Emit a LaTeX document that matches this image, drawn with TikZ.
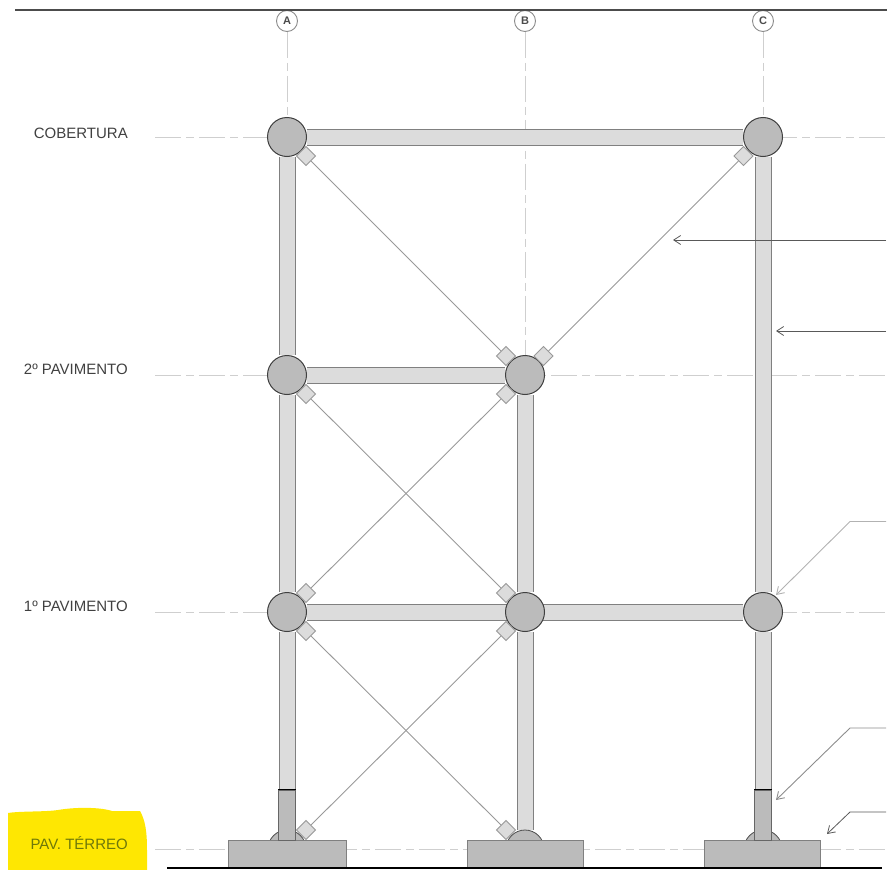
\documentclass[tikz,border=0pt]{standalone}
\usepackage{fontspec}
\setmainfont{Liberation Sans}
\usetikzlibrary{arrows.meta,backgrounds}
\definecolor{barfill}{HTML}{DCDCDC}
\definecolor{jointfill}{HTML}{BBBBBB}
\definecolor{griddash}{HTML}{CFCFCF}
\tikzset{
  x=1pt,y=-1pt,
  joint/.style={circle,draw=black!75,line width=1pt,fill=jointfill,inner sep=0pt,minimum size=39pt},
  halfjoint/.style={circle,draw=black!70,line width=.8pt,fill=jointfill,inner sep=0pt,minimum size=38pt},
  gusset/.style={rectangle,rotate=45,draw=black!40,line width=.8pt,fill=barfill,inner sep=0pt,minimum size=13.5pt},
  footing/.style={rectangle,draw=black!50,line width=.7pt,fill=jointfill,inner sep=0pt,minimum height=28pt},
  stub/.style={rectangle,draw=black!60,line width=.7pt,fill=jointfill,inner sep=0pt,minimum width=17pt,minimum height=50pt},
  member/.style={draw=black!50,line width=1pt,double=barfill,double distance=15pt},
  brace/.style={draw=black!40,line width=.9pt},
  gridline/.style={draw=griddash,line width=.9pt,dash pattern=on 26pt off 5pt on 8pt off 5pt},
  levellabel/.style={anchor=east,inner sep=0pt,font=\fontsize{15pt}{16pt}\selectfont,text=black!75},
  axislabel/.style={circle,draw=black!45,line width=.9pt,fill=white,inner sep=0pt,minimum size=21pt,font=\fontsize{11pt}{12pt}\selectfont\bfseries,text=black!70},
  leaderdark/.style={draw=black!65,line width=.8pt,-{Straight Barb[length=7pt,width=9pt]}},
  leaderlight/.style={draw=black!30,line width=.9pt,-{Straight Barb[length=7pt,width=9pt]}},
  leadermid/.style={draw=black!45,line width=.9pt,-{Straight Barb[length=7pt,width=9pt]}},
}
\begin{document}
\begin{tikzpicture}
\useasboundingbox (0,0) rectangle (887,870);

% highlight behind the ground-floor label
\fill[yellow!90!orange] (8,813) .. controls (20,811) and (45,812) .. (58,810)
  .. controls (75,807) and (100,807) .. (112,811) -- (140,811)
  .. controls (145,820) and (147,830) .. (147,850) -- (147,870) -- (8,870) -- cycle;

% level labels
\node[levellabel] (lcob) at (128,133) {COBERTURA};
\node[levellabel] (l2) at (128,369.5) {2º PAVIMENTO};
\node[levellabel] (l1) at (128,606.5) {1º PAVIMENTO};
\node[levellabel,text={rgb,255:red,110;green,120;blue,10}] (l0) at (128,843.5) {PAV. TÉRREO};

% axis bubbles
\node[axislabel] (axA) at (287,21) {A};
\node[axislabel] (axB) at (525,21) {B};
\node[axislabel] (axC) at (763,21) {C};

% free ends
\coordinate (gl0) at (155,849); \coordinate (gr0) at (887,849);
\coordinate (gl1) at (155,612); \coordinate (gr1) at (887,612);
\coordinate (gl2) at (155,375); \coordinate (gr2) at (887,375);
\coordinate (gl3) at (155,137); \coordinate (gr3) at (887,137);
\coordinate (bottomA) at (287,868); \coordinate (bottomB) at (525,868); \coordinate (bottomC) at (763,868);

% joints
\node[joint] (A3) at (287,137) {};
\node[joint] (C3) at (763,137) {};
\node[joint] (A2) at (287,375) {};
\node[joint] (B2) at (525,375) {};
\node[joint] (A1) at (287,612) {};
\node[joint] (B1) at (525,612) {};
\node[joint] (C1) at (763,612) {};

% base half joints, footings and column stubs
\node[halfjoint] (hA) at (287,849) {};
\node[halfjoint] (hB) at (525,849) {};
\node[halfjoint] (hC) at (763,849) {};
\node[footing,minimum width=118pt] (fA) at (287,854) {};
\node[footing,minimum width=116pt] (fB) at (525,854) {};
\node[footing,minimum width=116pt] (fC) at (762,854) {};
\node[stub] (sA) at (287,815) {};
\node[stub] (sC) at (763,815) {};
\draw[black,line width=.9pt] (sA.north west) -- (sA.north east);
\draw[black,line width=.9pt] (sC.north west) -- (sC.north east);

% gussets
\node[gusset] (gA3) at (306,156) {};
\node[gusset] (gC3) at (743.5,156) {};
\node[gusset] (gB2a) at (506,356) {};
\node[gusset] (gB2b) at (543.5,356) {};
\node[gusset] (gB2c) at (506,394) {};
\node[gusset] (gA2) at (306,394) {};
\node[gusset] (gA1a) at (306,593) {};
\node[gusset] (gA1b) at (306,631) {};
\node[gusset] (gB1a) at (506,593) {};
\node[gusset] (gB1b) at (506,631) {};
\node[gusset] (gA0) at (306,830) {};
\node[gusset] (gB0) at (506,830) {};

\begin{scope}[on background layer]
  % grid
  \draw[gridline] (gl3) -- (gr3);
  \draw[gridline] (gl2) -- (gr2);
  \draw[gridline] (gl1) -- (gr1);
  \draw[gridline] (gl0) -- (gr0);
  \draw[gridline] (axA) -- (bottomA);
  \draw[gridline] (axB) -- (bottomB);
  \draw[gridline] (axC) -- (bottomC);
  % members
  \draw[member] (A3) -- (C3);
  \draw[member] (A2) -- (B2);
  \draw[member] (A1) -- (C1);
  \draw[member] (A3) -- (A2);
  \draw[member] (A2) -- (A1);
  \draw[member] (A1) -- (sA.north);
  \draw[member] (B2) -- (B1);
  \draw[member] (B1) -- (hB);
  \draw[member] (C3) -- (C1);
  \draw[member] (C1) -- (sC.north);
  % braces
  \draw[brace] (gA3) -- (gB2a);
  \draw[brace] (gC3) -- (gB2b);
  \draw[brace] (gA2) -- (gB1a);
  \draw[brace] (gB2c) -- (gA1a);
  \draw[brace] (gA1b) -- (gB0);
  \draw[brace] (gB1b) -- (gA0);
\end{scope}

% ground line and top rule
\coordinate (gnd0) at (167,868); \coordinate (gnd1) at (882,868);
\draw[black,line width=2pt] (gnd0) -- (gnd1);
\coordinate (top0) at (15,10); \coordinate (top1) at (887,10);
\draw[black!70,line width=1.6pt] (top0) -- (top1);

% leaders
\coordinate (e1) at (886,240); \coordinate (t1) at (673,240);
\coordinate (e2) at (886,331); \coordinate (t2) at (776,331);
\coordinate (e3) at (886,521.5); \coordinate (k3) at (850,521.5); \coordinate (t3) at (776,595);
\coordinate (e4) at (886,728); \coordinate (k4) at (850,728); \coordinate (t4) at (776,800);
\coordinate (e5) at (886,812); \coordinate (k5) at (850,812); \coordinate (t5) at (827,834);
\draw[leaderdark] (e1) -- (t1);
\draw[leaderdark] (e2) -- (t2);
\draw[leaderlight] (e3) -- (k3) -- (t3);
\draw[leadermid] (e4) -- (k4) -- (t4);
\draw[leaderdark] (e5) -- (k5) -- (t5);
\end{tikzpicture}
\end{document}
